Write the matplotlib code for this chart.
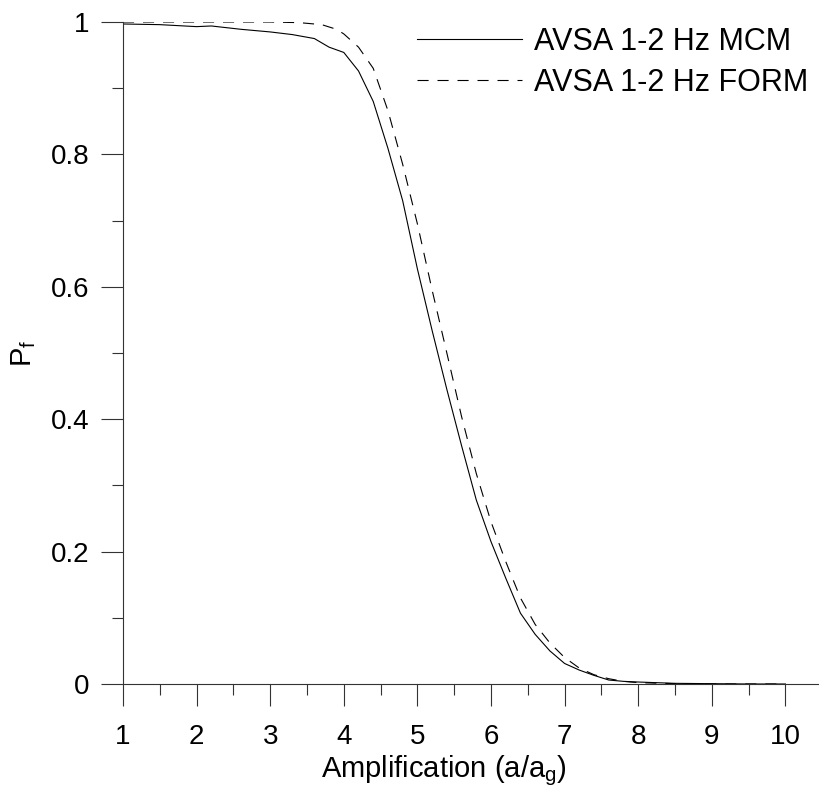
import numpy as np
import matplotlib
matplotlib.use('Agg')
import matplotlib.pyplot as plt
from matplotlib.ticker import MultipleLocator

plt.rcParams['font.family'] = ['Liberation Sans', 'DejaVu Sans']
plt.rcParams['mathtext.fontset'] = 'custom'
plt.rcParams['mathtext.rm'] = 'Liberation Sans'

# MCM curve (solid)
mcm_x = [1.0, 1.5, 2.0, 2.2, 2.6, 3.0, 3.3, 3.6, 3.8, 4.0, 4.2, 4.4, 4.6, 4.8,
         5.0, 5.2, 5.4, 5.6, 5.8, 6.0, 6.2, 6.4, 6.6, 6.8, 7.0, 7.2, 7.4, 7.6,
         7.8, 8.0, 8.5, 9.0, 9.5, 10.0]
mcm_y = [0.997, 0.996, 0.993, 0.994, 0.989, 0.985, 0.981, 0.975, 0.962, 0.954,
         0.926, 0.880, 0.809, 0.730, 0.627, 0.534, 0.445, 0.360, 0.278, 0.215,
         0.160, 0.107, 0.075, 0.050, 0.031, 0.021, 0.013, 0.006, 0.004, 0.003,
         0.001, 0.0005, 0.0, 0.0]

# FORM curve (dashed)
form_x = [1.0, 2.0, 3.0, 3.4, 3.7, 3.9, 4.0, 4.2, 4.4, 4.6, 4.8, 5.0, 5.2, 5.4,
          5.6, 5.8, 6.0, 6.2, 6.4, 6.6, 6.8, 7.0, 7.2, 7.4, 7.6, 7.8, 8.0, 8.5,
          9.0, 10.0]
form_y = [1.0, 1.0, 1.0, 0.999, 0.996, 0.989, 0.982, 0.962, 0.930, 0.866, 0.785,
          0.695, 0.595, 0.500, 0.404, 0.318, 0.245, 0.185, 0.130, 0.090, 0.062,
          0.040, 0.024, 0.014, 0.008, 0.004, 0.002, 0.0005, 0.0, 0.0]

W, H = 820, 789
fig = plt.figure(figsize=(W / 100, H / 100), dpi=100)
ax = fig.add_axes([123 / W, 1 - 684 / H, 1 - 123 / W, (684 - 22) / H])

ax.plot(mcm_x, mcm_y, color='black', lw=0.8, label='AVSA 1-2 Hz MCM')
ax.plot(form_x, form_y, color='black', lw=0.8, dashes=(10, 8),
        label='AVSA 1-2 Hz FORM')

ax.set_xlim(1, 10.47)
ax.set_ylim(0, 1)
ax.spines['top'].set_visible(False)
ax.spines['right'].set_visible(False)
for s in ['left', 'bottom']:
    ax.spines[s].set_color('#333333')
    ax.spines[s].set_linewidth(0.8)

ax.xaxis.set_minor_locator(MultipleLocator(0.5))
ax.yaxis.set_minor_locator(MultipleLocator(0.1))
ax.set_xticks(range(1, 11))
ax.set_xticklabels([str(i) for i in range(1, 11)])
ax.set_yticks([0, 0.2, 0.4, 0.6, 0.8, 1.0])
ax.set_yticklabels(['0', '0.2', '0.4', '0.6', '0.8', '1'])

ax.tick_params(axis='x', which='major', direction='out', length=16, width=0.8,
               color='#333333', pad=13, labelsize=20)
ax.tick_params(axis='x', which='minor', direction='out', length=8, width=0.8,
               color='#333333')
ax.tick_params(axis='y', which='major', direction='out', length=16, width=0.8,
               color='#333333', pad=8, labelsize=20)
ax.tick_params(axis='y', which='minor', direction='out', length=8, width=0.8,
               color='#333333')

fig.text(444 / W, 1 - 771 / H, r'Amplification (a/a$_\mathrm{g}$)',
         ha='center', va='center', fontsize=21)
fig.text(24 / W, 1 - 353 / H, r'P$_\mathrm{f}$', rotation=90,
         ha='center', va='center', fontsize=21)

ax.legend(loc='upper left', bbox_to_anchor=(417 / W, 1 - 27 / H),
          bbox_transform=fig.transFigure, frameon=False, fontsize=22,
          handlelength=3.44, handletextpad=0.4, labelspacing=0.35,
          borderpad=0, borderaxespad=0)

fig.savefig('out.png', dpi=100)
